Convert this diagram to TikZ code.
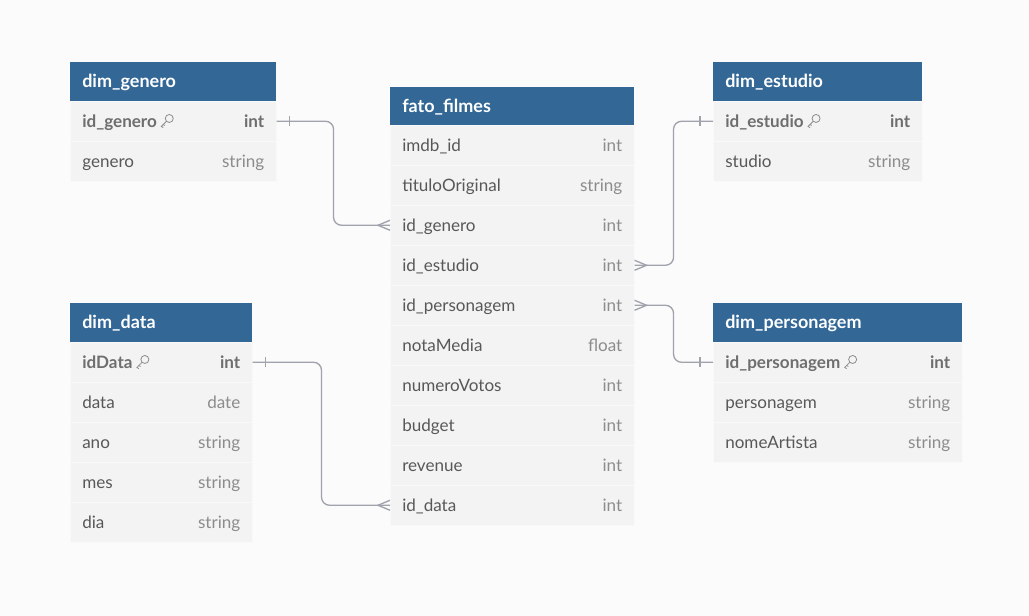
\documentclass[tikz,border=0pt]{standalone}
\usepackage{fontspec}
\setmainfont{Lato}
\usepackage{tikz}

\definecolor{pagegray}{RGB}{251,251,252}
\definecolor{headerblue}{RGB}{50,103,150}
\definecolor{rowgray}{RGB}{243,243,243}
\definecolor{rowline}{RGB}{249,249,249}
\definecolor{namegray}{RGB}{88,88,88}
\definecolor{typegray}{RGB}{140,140,140}
\definecolor{keygray}{RGB}{110,110,110}
\definecolor{linkgray}{RGB}{160,163,172}

\newcommand{\coltype}[1]{{\color{typegray}#1}}
\newcommand{\keyicon}{\tikz[x=1pt,y=1pt,baseline=0pt,line width=0.6pt]{
	\draw[typegray] (6.6,6.6) circle (3);
	\draw[typegray] (4.5,4.5) -- (0.6,0.6) -- (2.1,-0.3);
	\draw[typegray] (2.0,2.0) -- (3.4,1.4);}}
\newcommand{\keyrow}[2]{{\bfseries\color{keygray}#1\hspace{3pt}\keyicon\hfill#2}}

\begin{document}
\begin{tikzpicture}[x=0.75pt, y=-0.75pt]
	
	\tikzstyle{table_header}=[rectangle, fill=headerblue, text=white, font=\fontsize{13.5pt}{15pt}\selectfont\bfseries, anchor=north west, minimum height=29.25pt, text height=11pt, text depth=2pt, inner xsep=9pt, align=left]
	\tikzstyle{table_row}=[rectangle, fill=rowgray, draw=rowline, line width=0.4pt, text=namegray, font=\fontsize{12.8pt}{15pt}\selectfont, anchor=north west, minimum height=30pt, text height=11pt, text depth=2pt, inner xsep=9pt, align=left]
	\tikzstyle{w_genero}=[text width=136.5pt]
	\tikzstyle{w_filmes}=[text width=165pt]
	\tikzstyle{w_estudio}=[text width=138.75pt]
	\tikzstyle{w_data}=[text width=118.5pt]
	\tikzstyle{w_personagem}=[text width=168.75pt]
	\tikzstyle{link_line}=[draw=linkgray, line width=1pt]
	
	\fill[pagegray] (0,0) rectangle (1029,616);
	\useasboundingbox (0,0) rectangle (1029,616);
	
	% dim_genero
	\node[table_header, w_genero] at (70,62) (genero_head) {dim\_genero};
	\node[table_row, w_genero] at (70,101) (genero_id) {\keyrow{id\_genero}{int}};
	\node[table_row, w_genero] at (70,141) (genero_name) {genero\hfill\coltype{string}};
	
	% fato_filmes
	\node[table_header, w_filmes] at (390,87) (filmes_head) {fato\_filmes};
	\node[table_row, w_filmes] at (390,125) (filmes_imdb) {imdb\_id\hfill\coltype{int}};
	\node[table_row, w_filmes] at (390,165) (filmes_titulo) {tituloOriginal\hfill\coltype{string}};
	\node[table_row, w_filmes] at (390,205) (filmes_genero) {id\_genero\hfill\coltype{int}};
	\node[table_row, w_filmes] at (390,245) (filmes_estudio) {id\_estudio\hfill\coltype{int}};
	\node[table_row, w_filmes] at (390,285) (filmes_personagem) {id\_personagem\hfill\coltype{int}};
	\node[table_row, w_filmes] at (390,325) (filmes_nota) {notaMedia\hfill\coltype{float}};
	\node[table_row, w_filmes] at (390,365) (filmes_votos) {numeroVotos\hfill\coltype{int}};
	\node[table_row, w_filmes] at (390,405) (filmes_budget) {budget\hfill\coltype{int}};
	\node[table_row, w_filmes] at (390,445) (filmes_revenue) {revenue\hfill\coltype{int}};
	\node[table_row, w_filmes] at (390,485) (filmes_data) {id\_data\hfill\coltype{int}};
	
	% dim_estudio
	\node[table_header, w_estudio] at (713,62) (estudio_head) {dim\_estudio};
	\node[table_row, w_estudio] at (713,101) (estudio_id) {\keyrow{id\_estudio}{int}};
	\node[table_row, w_estudio] at (713,141) (estudio_name) {studio\hfill\coltype{string}};
	
	% dim_data
	\node[table_header, w_data] at (70,303) (data_head) {dim\_data};
	\node[table_row, w_data] at (70,342) (data_id) {\keyrow{idData}{int}};
	\node[table_row, w_data] at (70,382) (data_data) {data\hfill\coltype{date}};
	\node[table_row, w_data] at (70,422) (data_ano) {ano\hfill\coltype{string}};
	\node[table_row, w_data] at (70,462) (data_mes) {mes\hfill\coltype{string}};
	\node[table_row, w_data] at (70,502) (data_dia) {dia\hfill\coltype{string}};
	
	% dim_personagem
	\node[table_header, w_personagem] at (713,303) (personagem_head) {dim\_personagem};
	\node[table_row, w_personagem] at (713,342) (personagem_id) {\keyrow{id\_personagem}{int}};
	\node[table_row, w_personagem] at (713,382) (personagem_name) {personagem\hfill\coltype{string}};
	\node[table_row, w_personagem] at (713,422) (personagem_artista) {nomeArtista\hfill\coltype{string}};
	
	% relations
	\draw[link_line, rounded corners=6pt] (genero_id.east) -- ++(57,0) |- (filmes_genero.west);
	\draw[link_line, rounded corners=6pt] (filmes_estudio.east) -- ++(39,0) |- (estudio_id.west);
	\draw[link_line, rounded corners=6pt] (filmes_personagem.east) -- ++(39,0) |- (personagem_id.west);
	\draw[link_line, rounded corners=6pt] (data_id.east) -- ++(69,0) |- (filmes_data.west);
	
	% one side
	\draw[link_line] ([xshift=9.75pt, yshift=3.75pt]genero_id.east) -- ([xshift=9.75pt, yshift=-3.75pt]genero_id.east);
	\draw[link_line] ([xshift=-9.75pt, yshift=3.75pt]estudio_id.west) -- ([xshift=-9.75pt, yshift=-3.75pt]estudio_id.west);
	\draw[link_line] ([xshift=-9.75pt, yshift=3.75pt]personagem_id.west) -- ([xshift=-9.75pt, yshift=-3.75pt]personagem_id.west);
	\draw[link_line] ([xshift=9.75pt, yshift=3.75pt]data_id.east) -- ([xshift=9.75pt, yshift=-3.75pt]data_id.east);
	
	% many side
	\draw[link_line] ([yshift=3.75pt]filmes_genero.west) -- ([xshift=-9pt]filmes_genero.west) -- ([yshift=-3.75pt]filmes_genero.west);
	\draw[link_line] ([yshift=3.75pt]filmes_estudio.east) -- ([xshift=9pt]filmes_estudio.east) -- ([yshift=-3.75pt]filmes_estudio.east);
	\draw[link_line] ([yshift=3.75pt]filmes_personagem.east) -- ([xshift=9pt]filmes_personagem.east) -- ([yshift=-3.75pt]filmes_personagem.east);
	\draw[link_line] ([yshift=3.75pt]filmes_data.west) -- ([xshift=-9pt]filmes_data.west) -- ([yshift=-3.75pt]filmes_data.west);
	
\end{tikzpicture}
\end{document}
